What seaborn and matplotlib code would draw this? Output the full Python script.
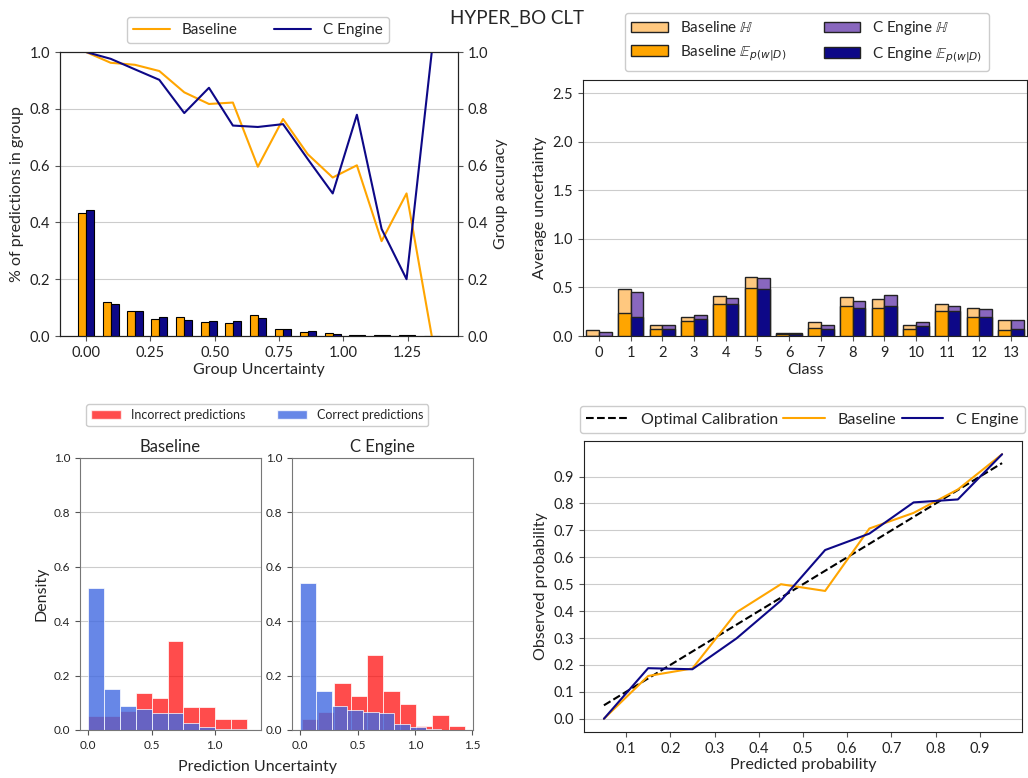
import numpy as np
import pandas as pd
import matplotlib
matplotlib.use("Agg")
import matplotlib.pyplot as plt
import seaborn as sns
from matplotlib.patches import Patch
from matplotlib.lines import Line2D

# ---------------- data ----------------
models = ["Baseline", "C Engine"]

# top-left: group uncertainty bins
group_unc = [0.000, 0.096, 0.190, 0.285, 0.382, 0.478, 0.571, 0.668,
             0.766, 0.862, 0.959, 1.053, 1.149, 1.246, 1.344]
pct_baseline = [0.434, 0.118, 0.088, 0.060, 0.068, 0.050, 0.046, 0.073,
                0.026, 0.015, 0.011, 0.005, 0.004, 0.002, 0.001]
pct_cengine = [0.445, 0.113, 0.088, 0.066, 0.057, 0.052, 0.054, 0.065,
               0.024, 0.018, 0.006, 0.005, 0.004, 0.003, 0.001]
acc_baseline = [1.000, 0.962, 0.955, 0.933, 0.858, 0.817, 0.822, 0.596,
                0.764, 0.640, 0.558, 0.601, 0.334, 0.502, 0.000]
acc_cengine = [1.000, 0.976, 0.939, 0.902, 0.785, 0.874, 0.741, 0.736,
               0.746, 0.623, 0.502, 0.779, 0.377, 0.200, 1.000]

# top-right: per-class uncertainty
classes = ["0", "1", "2", "3", "4", "5", "6", "7", "8", "9", "10", "11", "12", "13"]
H_baseline = [0.065, 0.486, 0.116, 0.194, 0.408, 0.605, 0.027, 0.146, 0.398, 0.378, 0.112, 0.327, 0.289, 0.170]
E_baseline = [0.003, 0.235, 0.068, 0.150, 0.330, 0.490, 0.020, 0.085, 0.313, 0.286, 0.068, 0.255, 0.197, 0.061]
H_cengine = [0.041, 0.449, 0.112, 0.214, 0.395, 0.599, 0.027, 0.109, 0.360, 0.418, 0.146, 0.310, 0.282, 0.163]
E_cengine = [0.002, 0.194, 0.068, 0.173, 0.327, 0.486, 0.020, 0.071, 0.286, 0.313, 0.099, 0.255, 0.197, 0.075]

# bottom-left: prediction-uncertainty histograms (bin edges and bin shares)
base_inc_edges = [0.0, 0.125, 0.251, 0.376, 0.502, 0.627, 0.752, 0.878, 1.003, 1.129, 1.254]
base_inc_vals = [0.051, 0.051, 0.071, 0.135, 0.116, 0.329, 0.084, 0.084, 0.039, 0.039]
base_cor_edges = [0.0, 0.125, 0.251, 0.376, 0.502, 0.627, 0.752, 0.878, 1.003, 1.129, 1.254]
base_cor_vals = [0.522, 0.149, 0.088, 0.076, 0.063, 0.061, 0.026, 0.012, 0.005, 0.002]
ce_inc_edges = [0.012, 0.154, 0.297, 0.439, 0.582, 0.724, 0.866, 1.008, 1.151, 1.293, 1.435]
ce_inc_vals = [0.041, 0.067, 0.171, 0.124, 0.274, 0.144, 0.096, 0.013, 0.056, 0.013]
ce_cor_edges = [0.0, 0.137, 0.273, 0.410, 0.546, 0.683, 0.820, 0.956, 1.093, 1.229, 1.366]
ce_cor_vals = [0.539, 0.143, 0.090, 0.072, 0.067, 0.062, 0.022, 0.011, 0.004, 0.001]

# bottom-right: calibration
pred_prob = [0.05, 0.15, 0.25, 0.35, 0.45, 0.55, 0.65, 0.75, 0.85, 0.95]
obs_baseline = [0.000, 0.159, 0.187, 0.396, 0.500, 0.475, 0.707, 0.765, 0.852, 0.983]
obs_cengine = [0.000, 0.188, 0.184, 0.299, 0.439, 0.627, 0.688, 0.804, 0.815, 0.983]
optimal = [0.05, 0.15, 0.25, 0.35, 0.45, 0.55, 0.65, 0.75, 0.85, 0.95]

# ---------------- style ----------------
ORANGE = "#FFA500"
NAVY = "#0D0887"
LORANGE = "#FFC87F"
LPURPLE = "#8967BE"
RED = "red"
BLUE = "royalblue"

sns.set_style("whitegrid", {
    "axes.edgecolor": "#222222",
    "grid.color": "#cccccc",
    "xtick.bottom": True,
    "ytick.left": True,
    "xtick.color": "#555555",
    "ytick.color": "#555555",
})
plt.rcParams["font.family"] = ["Lato", "DejaVu Sans"]
plt.rcParams["mathtext.fontset"] = "dejavusans"
plt.rcParams["xtick.labelcolor"] = "#222222"
plt.rcParams["ytick.labelcolor"] = "#222222"
plt.rcParams["xtick.major.size"] = 3.5
plt.rcParams["ytick.major.size"] = 3.5

W, H = 1028, 778
fig = plt.figure(figsize=(W / 100, H / 100), dpi=100)


def box(x0, y0, x1, y1):
    return [x0 / W, 1 - y1 / H, (x1 - x0) / W, (y1 - y0) / H]


TICK = 10.5
LAB = 11.5

# ---------------- top-left ----------------
ax1 = fig.add_axes(box(60, 52, 458, 336))
bw = 0.031
ax1.bar(np.array(group_unc) - bw / 2, pct_baseline, width=bw, color=ORANGE,
        edgecolor="black", linewidth=0.8, zorder=3)
ax1.bar(np.array(group_unc) + bw / 2, pct_cengine, width=bw, color=NAVY,
        edgecolor="black", linewidth=0.8, zorder=3)
ax1.set_xlim(-0.101, 1.446)
ax1.set_ylim(0, 1)
ax1.set_xticks([0.0, 0.25, 0.5, 0.75, 1.0, 1.25])
ax1.set_xticklabels(["0.00", "0.25", "0.50", "0.75", "1.00", "1.25"])
ax1.set_yticks([0.0, 0.2, 0.4, 0.6, 0.8, 1.0])
ax1.grid(axis="x", visible=False)
ax1.set_xlabel("Group Uncertainty", fontsize=LAB, labelpad=2)
ax1.set_ylabel("% of predictions in group", fontsize=LAB)
ax1.tick_params(labelsize=TICK)
ax1b = ax1.twinx()
df_acc = pd.DataFrame({"u": group_unc * 2,
                       "acc": acc_baseline + acc_cengine,
                       "model": ["Baseline"] * len(group_unc) + ["C Engine"] * len(group_unc)})
sns.lineplot(data=df_acc, x="u", y="acc", hue="model", palette=[ORANGE, NAVY],
             ax=ax1b, linewidth=1.5, legend=False, sort=False)
ax1b.set_ylim(0, 1)
ax1b.set_yticks([0.0, 0.2, 0.4, 0.6, 0.8, 1.0])
ax1b.grid(False)
ax1b.set_ylabel("Group accuracy", fontsize=LAB)
ax1b.tick_params(labelsize=TICK, right=True)
ax1b.set_xlim(-0.101, 1.446)
for s in ax1b.spines.values():
    s.set_color("#222222")
fig.legend(handles=[Line2D([], [], color=ORANGE, lw=1.5), Line2D([], [], color=NAVY, lw=1.5)],
           labels=models, loc="center", bbox_to_anchor=(258 / W, 1 - 30 / H), ncol=2,
           fontsize=11, handlelength=2.4, columnspacing=2.4, framealpha=1)

fig.text(517 / W, 1 - 18 / H, "HYPER_BO CLT", ha="center", va="center", fontsize=13.5)

# ---------------- top-right ----------------
ax2 = fig.add_axes(box(583, 80, 1027, 336))
df_cls = pd.DataFrame({
    "cls": classes * 2,
    "H": H_baseline + H_cengine,
    "E": E_baseline + E_cengine,
    "model": ["Baseline"] * 14 + ["C Engine"] * 14,
})
sns.barplot(data=df_cls, x="cls", y="H", hue="model", palette=[LORANGE, LPURPLE],
            ax=ax2, edgecolor="#222222", linewidth=1.0, legend=False, zorder=3,
            saturation=1)
sns.barplot(data=df_cls, x="cls", y="E", hue="model", palette=[ORANGE, NAVY],
            ax=ax2, edgecolor="#222222", linewidth=1.0, legend=False, zorder=3,
            saturation=1)
ax2.set_xlim(-0.5, 13.5)
ax2.set_ylim(0, 2.639)
ax2.set_yticks([0.0, 0.5, 1.0, 1.5, 2.0, 2.5])
ax2.grid(axis="x", visible=False)
ax2.set_xlabel("Class", fontsize=LAB, labelpad=2)
ax2.set_ylabel("Average uncertainty", fontsize=LAB)
ax2.tick_params(labelsize=TICK)
h2 = [Patch(facecolor=LORANGE, edgecolor="#222222"), Patch(facecolor=ORANGE, edgecolor="#222222"),
      Patch(facecolor=LPURPLE, edgecolor="#222222"), Patch(facecolor=NAVY, edgecolor="#222222")]
l2 = [r"Baseline $\mathbb{H}$", r"Baseline $\mathbb{E}_{p(w|D)}$",
      r"C Engine $\mathbb{H}$", r"C Engine $\mathbb{E}_{p(w|D)}$"]
fig.legend(handles=h2, labels=l2, loc="center", bbox_to_anchor=(807 / W, 1 - 42 / H), ncol=2,
           fontsize=11, handlelength=2.4, columnspacing=2.4, framealpha=1)

# ---------------- bottom-left ----------------
hist_sets = [
    ("Baseline", base_inc_edges, base_inc_vals, base_cor_edges, base_cor_vals, (-0.065, 1.365), [0.0, 0.5, 1.0]),
    ("C Engine", ce_inc_edges, ce_inc_vals, ce_cor_edges, ce_cor_vals, (-0.072, 1.505), [0.0, 0.5, 1.0, 1.5]),
]
positions = [box(80, 458, 261, 730), box(292, 458, 473, 730)]
for i, (name, ie, iv, ce, cv, xl, xt) in enumerate(hist_sets):
    ax = fig.add_axes(positions[i])
    ic = [(ie[k] + ie[k + 1]) / 2 for k in range(len(iv))]
    cc = [(ce[k] + ce[k + 1]) / 2 for k in range(len(cv))]
    sns.histplot(x=ic, weights=iv, bins=ie, color=RED, alpha=0.7, ax=ax, linewidth=0.5)
    sns.histplot(x=cc, weights=cv, bins=ce, color=BLUE, alpha=0.8, ax=ax, linewidth=0.5)
    ax.set_xlim(*xl)
    ax.set_ylim(0, 1)
    ax.set_xticks(xt)
    ax.set_yticks([0.0, 0.2, 0.4, 0.6, 0.8, 1.0])
    ax.grid(axis="x", visible=False)
    ax.tick_params(labelsize=8.5)
    for s in ax.spines.values():
        s.set_color("#777777")
    ax.set_title(name, fontsize=12, pad=4)
    ax.set_xlabel("")
    ax.set_ylabel("Density" if i == 0 else "", fontsize=LAB)
fig.text(257 / W, 1 - 767 / H, "Prediction Uncertainty", ha="center", va="center", fontsize=LAB)
fig.legend(handles=[Patch(facecolor=RED, alpha=0.7), Patch(facecolor=BLUE, alpha=0.8)],
           labels=["Incorrect predictions", "Correct predictions"], loc="center",
           bbox_to_anchor=(257 / W, 1 - 415 / H), ncol=2, fontsize=9, handlelength=2.4,
           columnspacing=2.5, framealpha=1)

# ---------------- bottom-right ----------------
ax4 = fig.add_axes(box(584, 441, 1022, 732))
sns.lineplot(x=pred_prob, y=optimal, ax=ax4, color="black", linestyle="--", linewidth=1.5)
sns.lineplot(x=pred_prob, y=obs_baseline, ax=ax4, color=ORANGE, linewidth=1.5)
sns.lineplot(x=pred_prob, y=obs_cengine, ax=ax4, color=NAVY, linewidth=1.5)
ax4.set_xticks([0.1, 0.2, 0.3, 0.4, 0.5, 0.6, 0.7, 0.8, 0.9])
ax4.set_yticks([0.0, 0.1, 0.2, 0.3, 0.4, 0.5, 0.6, 0.7, 0.8, 0.9])
ax4.grid(axis="x", visible=False)
ax4.set_xlabel("Predicted probability", fontsize=LAB, labelpad=2)
ax4.set_ylabel("Observed probability", fontsize=LAB)
ax4.tick_params(labelsize=TICK)
fig.legend(handles=[Line2D([], [], color="black", ls="--", lw=1.5),
                    Line2D([], [], color=ORANGE, lw=1.5),
                    Line2D([], [], color=NAVY, lw=1.5)],
           labels=["Optimal Calibration", "Baseline", "C Engine"],
           loc="lower left", bbox_to_anchor=(580 / W, 1 - 433 / H, 445 / W, 28 / H),
           mode="expand", ncol=3, fontsize=11.5, handlelength=2.6, framealpha=1,
           borderaxespad=0)

fig.savefig("out.png", dpi=100)
